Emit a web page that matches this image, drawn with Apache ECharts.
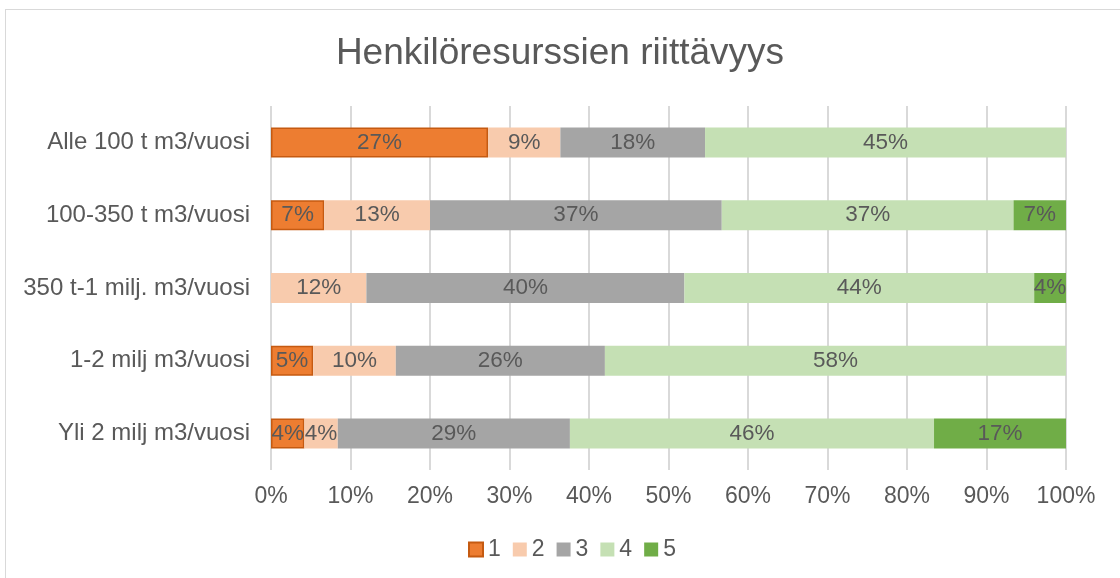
<!DOCTYPE html>
<html>
<head>
<meta charset="utf-8">
<script src="https://cdn.jsdelivr.net/npm/echarts@6/dist/echarts.min.js"></script>
<style>
  html, body { margin: 0; padding: 0; background: #fff; }
  #frame {
    position: absolute; left: 5px; top: 9px; width: 1130px; height: 600px;
    border: 1px solid #d9d9d9; box-sizing: border-box;
  }
  #chart { position: absolute; left: 0; top: 0; width: 1120px; height: 578px; }
</style>
</head>
<body>
<div id="frame"></div>
<div id="chart"></div>
<script>
// luokat ylhäältä alas
const categories = [
  "Alle 100 t m3/vuosi",
  "100-350 t m3/vuosi",
  "350 t-1 milj. m3/vuosi",
  "1-2 milj m3/vuosi",
  "Yli 2 milj m3/vuosi"
];
const seriesNames = ["1", "2", "3", "4", "5"];
// osuudet prosentteina (luettu kuvasta)
const s1 = [27.3, 6.7, 0, 5.3, 4.2];
const s2 = [9.1, 13.3, 12.0, 10.4, 4.2];
const s3 = [18.2, 36.7, 40.0, 26.3, 29.2];
const s4 = [45.4, 36.7, 44.0, 58.0, 45.8];
const s5 = [0, 6.6, 4.0, 0, 16.6];
const xTicks = [0, 10, 20, 30, 40, 50, 60, 70, 80, 90, 100];

const colors = ["#ED7D31", "#F8CBAD", "#A5A5A5", "#C5E0B4", "#70AD47"];
const allData = [s1, s2, s3, s4, s5];
const font = "Arial, 'Liberation Sans', sans-serif";

let myChart = echarts.init(document.getElementById("chart"));

let series = allData.map((d, i) => ({
  name: seriesNames[i],
  type: "bar",
  stack: "total",
  barWidth: 30,
  data: d.map(v => (v === 0 ? null : v)),
  itemStyle: i === 0
    ? { color: colors[i], borderColor: "#C55A11", borderWidth: 1.5 }
    : { color: colors[i] },
  label: {
    show: true,
    position: "inside",
    color: "#595959",
    fontSize: 22.5,
    fontFamily: font,
    formatter: p => (p.value ? Math.round(p.value) + "%" : "")
  }
}));

let option = {
  animation: false,
  title: {
    text: "Henkilöresurssien riittävyys",
    left: "center",
    top: 30,
    textStyle: {
      color: "#595959",
      fontSize: 37,
      fontWeight: "normal",
      fontFamily: font
    }
  },
  legend: {
    top: 533,
    left: 463,
    itemWidth: 14,
    itemHeight: 14,
    itemGap: 12,
    icon: "rect",
    data: seriesNames,
    textStyle: {
      color: "#595959",
      fontSize: 23,
      fontFamily: font
    }
  },
  grid: { left: 271, right: 54, top: 106, bottom: 108, containLabel: false },
  xAxis: {
    type: "value",
    min: 0,
    max: 100,
    interval: 10,
    axisLine: { show: false },
    axisTick: { show: false },
    splitLine: { lineStyle: { color: "#d9d9d9", width: 2 } },
    axisLabel: {
      color: "#595959",
      fontSize: 23,
      margin: 15,
      fontFamily: font,
      formatter: v => (xTicks.includes(v) ? v + "%" : "")
    }
  },
  yAxis: {
    type: "category",
    inverse: true,
    data: categories,
    axisLine: { show: false },
    axisTick: { show: false },
    axisLabel: {
      color: "#595959",
      fontSize: 24,
      margin: 21,
      fontFamily: font
    }
  },
  series: series
};

myChart.setOption(option, true);
</script>
</body>
</html>
